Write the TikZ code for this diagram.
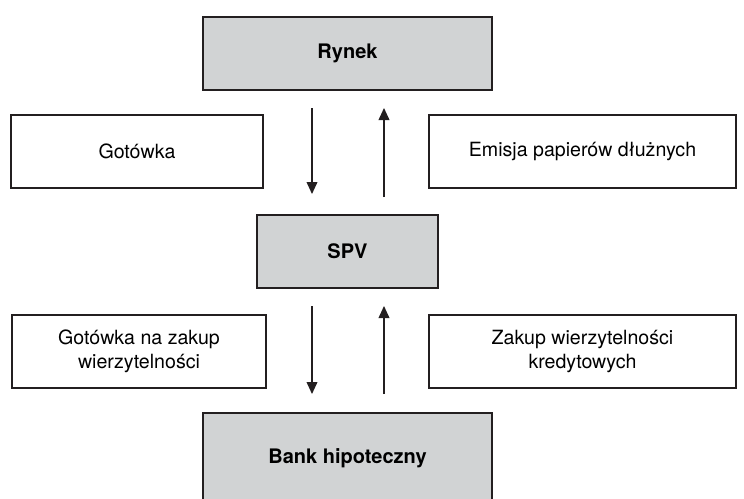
\documentclass[tikz,border=0pt]{standalone}
\usepackage{fontspec}
\setmainfont{TeX Gyre Heros}
\usepackage{tikz}
\usetikzlibrary{positioning, calc, arrows.meta}

\definecolor{boxgrey}{HTML}{D1D3D4}
\definecolor{linedark}{HTML}{231F20}

\tikzset{
    entity/.style={draw=linedark, line width=1pt, fill=boxgrey, font=\bfseries,
        minimum height=36.5pt, inner sep=0pt},
    flow/.style={draw=linedark, line width=0.9pt, fill=white, align=center,
        minimum height=36.5pt, inner sep=0pt},
    arr/.style={draw=linedark, line width=0.6pt,
        -{Triangle[length=6pt,width=5.4pt]}},
}

\begin{document}
\begin{tikzpicture}[x=0.5pt, y=-0.5pt, font=\fontsize{9.8}{12}\selectfont]
    \clip (0,0) rectangle (744,498);

    % Main parties
    \node[entity, minimum width=144.5pt] (rynek) at (347.5,53.5) {Rynek};
    \node[entity, minimum width=90.5pt] (spv) at (347.5,251.5) {SPV};
    \node[entity, minimum width=144.5pt, minimum height=45pt] (bank) at (347.5,458) {Bank hipoteczny};

    % Flow descriptions
    \node[flow, minimum width=126pt] (gotowka) at (137,151.5) {Gotówka};
    \node[flow, minimum width=153.5pt] (emisja) at (582.5,151.5) {Emisja papierów dłużnych};
    \node[flow, minimum width=127pt] (zakupgot) at (139,351.5) {Gotówka na zakup\\wierzytelności};
    \node[flow, minimum width=153.5pt] (zakupwierz) at (582.5,351.5) {Zakup wierzytelności\\kredytowych};

    % Arrows between the market and SPV
    \draw[arr, shorten <=8.5pt, shorten >=10pt] ($(rynek.south)+(-35.5,0)$) -- ($(spv.north)+(-35.5,0)$);
    \draw[arr, shorten <=8.5pt, shorten >=8.5pt] ($(spv.north)+(36.5,0)$) -- ($(rynek.south)+(36.5,0)$);

    % Arrows between SPV and the bank
    \draw[arr, shorten <=8.5pt, shorten >=9pt] ($(spv.south)+(-35.5,0)$) -- ($(bank.north)+(-35.5,0)$);
    \draw[arr, shorten <=9pt, shorten >=8.5pt] ($(bank.north)+(36.5,0)$) -- ($(spv.south)+(36.5,0)$);
\end{tikzpicture}
\end{document}
